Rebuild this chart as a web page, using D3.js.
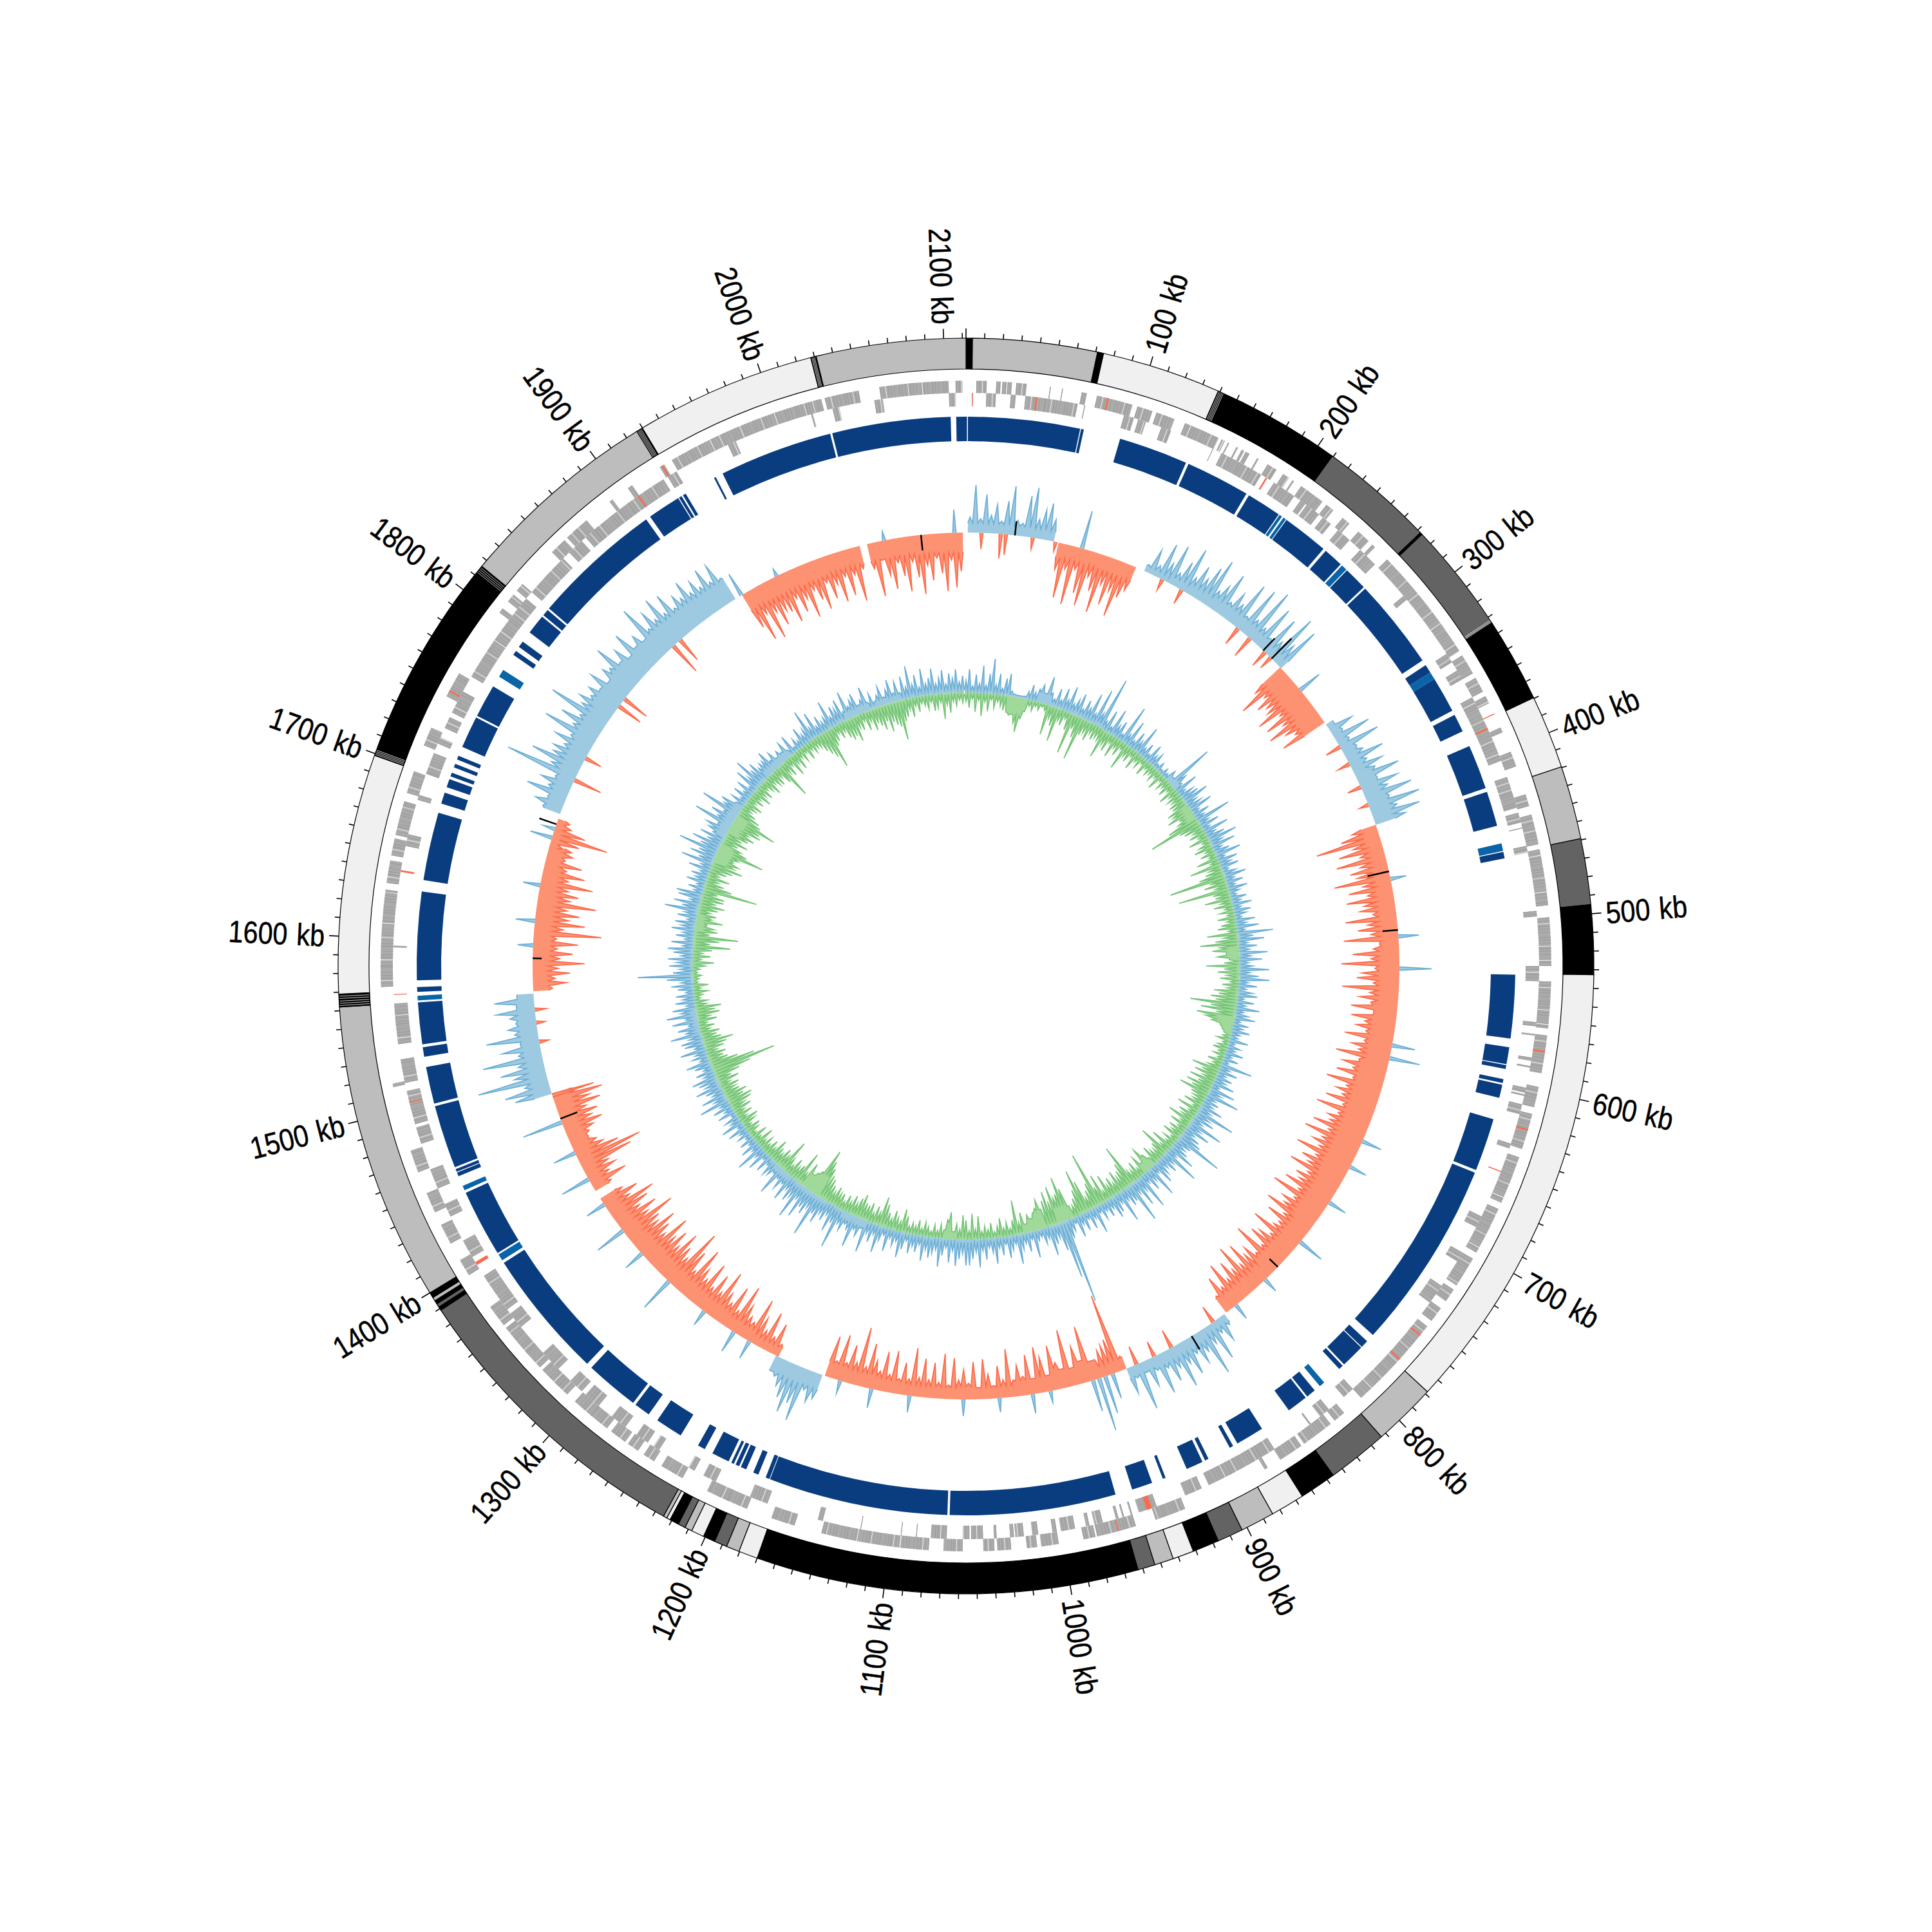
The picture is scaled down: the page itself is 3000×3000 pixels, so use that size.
<!DOCTYPE html>
<html><head><meta charset="utf-8"><script src="https://cdn.jsdelivr.net/npm/d3@7"></script>
<style>html,body{margin:0;padding:0;background:#fff}svg{display:block}text{font-family:"Liberation Sans Narrow","Liberation Sans",sans-serif}</style></head>
<body><svg id="c" width="3000" height="3000"></svg>
<script>
const genomeKb = 2112;
const shades = {k:"#000000",d:"#636363",b:"#bdbdbd",f:"#f0f0f0"};
const contigs = [[0,3.5,"k"],[3.5,71,"b"],[71,74.3,"k"],[74.3,139,"f"],[139,209.4,"k"],[209.4,272,"d"],[272,273.2,"k"],[273.2,333.8,"d"],[333.8,379.6,"k"],[379.6,419.5,"f"],[419.5,459.3,"b"],[459.3,495.1,"d"],[495.1,532.7,"k"],[532.7,778.5,"f"],[778.5,813,"b"],[813,846,"d"],[846,866,"k"],[866,884.5,"f"],[884.5,903,"b"],[903,917,"d"],[917,931.5,"k"],[931.5,943,"f"],[943,953.3,"b"],[953.3,962.7,"d"],[962.7,1170,"k"],[1170,1180.4,"f"],[1180.4,1187.5,"b"],[1187.5,1194.5,"d"],[1194.5,1201,"k"],[1201,1208,"f"],[1208,1212,"b"],[1212,1216,"d"],[1216,1221,"k"],[1221,1223,"f"],[1223,1225,"b"],[1225,1389,"d"],[1389,1391,"k"],[1391,1393,"d"],[1393,1395,"k"],[1395,1397,"b"],[1397,1400,"k"],[1400,1562,"b"],[1562,1569,"k"],[1569,1699,"f"],[1699,1816,"k"],[1816,1926.5,"b"],[1926.5,1930,"k"],[1930,2028,"f"],[2028,2031,"k"],[2031,2112,"b"]];
const contigHairlines = [139.6,140.4,141.2,142,332,332.8,1562.8,1564,1565.2,1566.6,1567.8,1699.6,1700.4,1701.2,1702,1812,1813,1814,1815,1926.9,1927.6,1928.3,1929,2028.6,2029.3,2030];
const majorTicks = d3.range(100,2112,100);
const minorTicks = d3.range(0,2112,10);

const genesOuter = [[2106,2110],[6,12],[17.5,20],[21,23.5],[24,26.5],[29,35],[48.5,49],[55.5,56],[67,70],[76,97],[100,109],[111.5,122.5],[129,150],[152,153],[153.5,154],[156,156.8],[161.5,162.5],[165,166.5],[167.5,170],[175,176],[182,188],[192.5,196.5],[199,200],[205,220],[223,228],[235,240],[247,255],[258,260],[270,293],[293,329],[329,337],[340,352],[355,364],[367,371.5],[387,390],[402,411],[428,435],[440,446],[446,457.5],[460.5,493],[500,528],[537,564],[568,590],[598,610],[614,635],[640,668],[672,700],[704,722],[725,733],[738,747],[751,774],[774,807],[820,827],[830,849],[851,865.5],[874,876],[927,945],[957,968],[968,980],[981,988],[1002.5,1012.6],[1015,1021],[1030,1038],[1039.6,1046],[1058,1069],[1077.5,1094],[1094.5,1140],[1156,1170],[1185,1198],[1197,1210],[1226,1240],[1245,1252],[1256,1263],[1265,1275],[1278,1290],[1290,1302],[1308,1318],[1315,1328],[1330,1342],[1340,1360],[1362,1375],[1397,1407],[1418,1430],[1438,1450],[1463,1476],[1514,1516],[1572,1584],[1584,1628],[1632,1645],[1648,1658],[1660,1680],[1685,1698],[1714,1725],[1745,1760],[1802,1805],[1810,1815],[1818,1823],[1848,1858],[1860,1868],[1865,1875],[1892,1894],[1905,1908],[1927,1930],[1935,1962],[1962,1975],[1975,2028],[2030,2050],[2062,2102]];
const genesInner = [[2102,2106],[3.5,4],[12,17.6],[26.4,29.3],[35,47],[47,66],[70,70.5],[94,100],[102.7,107.4],[117,123],[149.6,150],[155.5,176],[176,182],[190.7,205],[209.5,213],[214,223],[226,232],[237.6,246.4],[255,267],[292,295],[334.4,340.3],[346,352],[364,375.5],[375.5,405],[415,419.5],[419.5,434],[437,443],[446,446.5],[457,461],[495.7,499],[528,537],[561,563.5],[568,569],[582,584],[587,588],[600,603],[604,605],[610,616],[634,637],[680,687],[704,710],[727,739],[807,814],[825.5,832],[839,840],[865,874],[874,894.5],[894.5,909],[913.5,924],[942,953],[957,958],[962,963],[965.4,967],[975,980],[983,985],[991.6,1000],[1002.5,1005],[1013.5,1017],[1022,1027],[1027.8,1030],[1038,1039.6],[1046,1053],[1054,1058],[1067.4,1076.7],[1085,1085.4],[1094,1094.4],[1118,1118.4],[1141,1144],[1175,1186],[1208,1216],[1222,1226],[1246,1250],[1254,1262],[1270,1280],[1290,1300],[1303,1312],[1322,1335],[1355,1365],[1368,1383],[1383,1392],[1405,1416],[1432,1440],[1450,1462],[1478,1488],[1490,1510],[1515,1529],[1538,1562],[1595,1596],[1655,1662],[1683,1686],[1699,1701],[1700,1712],[1718,1722],[1728,1735],[1738,1752],[1762,1790],[1790,1808],[1808,1818],[1823,1850],[1855,1865],[1868,1878],[1875,1900],[1900,1925],[1928,1934],[1968,1973],[2020,2021],[2033,2037],[2058,2063]];
const redOuter = [[82,83],[378,378.6],[577,578],[623,624],[757,758],[775,776],[967,967.6],[1748,1749],[1928,1929]];
const redInner = [[3.5,4],[41,42],[185,186],[384,385],[651,651.6],[945,948],[1399.5,1401.5],[1503,1503.6],[1567,1567.5],[1639.5,1640.5],[1907,1908]];

const rnaDark = [[0,0.6],[1.2,70.4],[71,72.7],[95.6,138.5],[140.2,180.1],[181.9,203.6],[209.4,238.2],[240,252.3],[257.6,272.2],[273.4,329.7],[333.2,338.5],[343.2,365.5],[368.4,379.6],[389.5,417.1],[419.5,441.2],[457.6,461.7],[533.3,572.6],[577.9,588.4],[589,591.4],[597.8,600.2],[601.3,609.5],[623,655.9],[657.7,775.6],[780.8,785.5],[786.1,800.8],[802,804.9],[824.8,830.7],[831.9,844.8],[864.7,882.3],[885.3,887.6],[902.3,904.6],[906.4,917],[931,932.8],[939.8,952.7],[963.3,1066],[1067.4,1178.6],[1179,1181.5],[1186.3,1189.7],[1194.4,1198],[1199.1,1201.5],[1202.7,1204.4],[1206.2,1217.3],[1222.6,1227.3],[1239.6,1256.6],[1263,1273],[1274.8,1308.3],[1311.8,1392.1],[1399.2,1440.9],[1452,1454.4],[1454.9,1456.7],[1457.9,1497.2],[1498.9,1521.8],[1528.2,1534.1],[1535.9,1561.7],[1568.1,1571.1],[1575.2,1629.8],[1636.8,1679],[1684.9,1691.9],[1695.5,1700.7],[1702.5,1704.9],[1708.4,1710.7],[1713.6,1716],[1721.9,1741.8],[1743,1763.5],[1786.4,1789.3],[1792.3,1796.4],[1803.4,1815.7],[1816.9,1821],[1822.2,1903.1],[1906,1926.6],[1927.2,1929],[1930,1932],[1951.8,1953],[1957.7,2028],[2029.3,2102.6],[2106,2112]];
const rnaLight = [[204.2,206],[207.1,208.9],[253.4,257],[338.5,343.2],[452.3,457],[817.2,820.7],[1393.9,1398.1],[1442.6,1445.5],[1562.9,1565.8],[1770.5,1775.3]];

const skewStep = 4;
const skewStarts = [3,74,144,274,331,418,843,930,1171,1208,1402,1485,1566,1679,1706,1931,2036];
const skewRuns = [
[24,74,22,60,28,45,20,52,76,24,20,64,78,30,46,58,34],
[-42,-85,-38,-92,-35,-70,-88,-40,-60,-92,-45,-75,-50,-88,-55,-40],
[12,40,18,58,30,64,22,45,72,28,52,36,60,78,30,44,70,26,48,34,76,24,80,30,90,28,72,22,66,30,84,38,74],
[-55,-88,-50,-70,-58,-62,-85,-50,-80,-55,-85,-60,-48,-75],
[12,40,18,60,20,66,24,30,60,28,50,34,70,30,60,40,76,36,82,42,76,50],
[-40,-60,-102,-45,-70,-38,-78,-42,-60,-50,-88,-44,-68,-40,-74,-48,-55,-36,-80,-46,-62,
 -42,-85,-30,-40,-72,-44,-90,-38,-58,-66,-40,-88,-45,-60,-42,-72,-36,-70,-48,-60,-44,-76,
 -44,-62,-50,-84,-46,-70,-52,-76,-48,-88,-54,-68,-56,-80,-50,-90,-52,-66,-60,-84,-56,-92,
 -60,-72,-58,-92,-56,-76,-62,-88,-54,-70,-60,-80,-52,-92,-50,-66,-58,-84,-48,-72,-46,
 -50,-82,-44,-60,-70,-42,-86,-40,-58,-50,-75,-44,-82,-46,-65,-40,-72,-36,-58,-30],
[18,40,22,62,30,78,34,48,28,58,36,70,34,52,26,64,22,44,18,75,20,42],
[-22,-125,-55,-48,-42,-30,-30,-88,-35,-60,-28,-90,-30,-42,-70,-25,-55,-72,-24,-62,-30,-48,-26,-75,-28,-50,-20,-38,-62,-18,-58,-25,-46,-30,-64,-22,-70,-25,-55,-28,-60,-30,-75,-26,-50,-24,-66,-28,-62,-30,-45,-70,-32,-92,-35,-60,-30,-72,-28,-65],
[40,48,32,85,60,78,58,42,30,25],
[-20,-50,-25,-62,-28,-45,-72,-30,-35,-50,-78,-32,-68,-36,-48,-80,-40,-65,-38,-75,-42,-55,-85,-40,-70,-100,-46,-60,-80,-50,-72,-55,-85,-48,-62,-78,-52,-60,-90,-50,-70,-45,-65,-80,-42,-60,-38],
[-30,-60,-35,-50,-42,-85,-104,-70,-48,-40,-30,-35,-45,-62,-48,-60,-45,-70,-55,-78,-40],
[58,72,38,110,50,70,40,94,36,60,30,82,36,45,32,40,60,28,62,26],
[-30,-52,-35,-58,-40,-81,-42,-62,-38,-70,-36,-105,-45,-78,-52,-68,-48,-92,-50,-62,-45,-82,-42,-66,-36,-58,-30,-40,-36],
[-20,-45,-88,-50,-25,-20],
[30,45,28,66,34,50,30,115,45,82,50,54,40,60,38,88,44,70,42,99,50,60,45,55,40,64,36,55,48,80,42,60,36,74,40,55,38,92,46,70,50,81,48,75,44,60,50,73,48,62,46,71,44,68,40],
[-60,-85,-45,-90,-50,-75,-55,-60,-80,-45,-70,-52,-85,-44,-62,-80,-40,-68,-48,-78,-40,-72,-42,-85,-36],
[-40,-85,-30,-55,-78,-38,-60,-85,-40,-65,-92,-48,-72,-38,-62,-90,-42,-85,-60]
];
const skewBands = [[15],[-22],[9,12,16,20,20,18,15],[-38],[15,20,28,32],[-24,-28,-32,-38,-44,-44,-40,-34,-26],[12,18,19,16],[-18,-50,-34,-24,-18,-20,-18,-18,-20,-22,-24],[24,24],[-14,-20,-24,-26,-28,-30,-28,-26],[-22,-28,-28],[28,28],[-24,-28,-28,-30,-28,-24],[-12],[26,30,34,38,40,40,38,36],[-28,-30,-28],[-28,-30]];
const skewOppPos = [[91,60],[296,38],[460,25],[505,32],[530,50],[590,36],[600,48],[668,32],[690,28],[722,30],[760,42],[800,24],[830,26],[940,40],[946,60],[951,84],[956,50],[990,18],[1004,30],[1030,22],[1058,26],[1100,26],[1130,30],[1155,20],[1232,30],[1246,35],[1274,26],[1310,55],[1340,33],[1363,49],[1388,32],[1411,47],[1434,36],[1460,64],[1647,27],[1619,30],[1600,24],[1685,35],[1692,19],[1929,38],[1960,12],[2048,14],[2103,36]];
const skewOppNeg = [[12,-25],[27,-38],[31,-32],[52,-18],[70,-15],[158,-18],[175,-24],[228,-30],[240,-35],[256,-28],[262,-22],[350,-25],[365,-20],[385,-22],[400,-15],[852,-28],[890,-30],[905,-25],[920,-30],[1482,-67],[1525,-15],[1540,-14],[1550,-18],[1733,-45],[1752,-27],[1800,-41],[1807,-43],[1863,-52],[1870,-40]];
const skewBlack = [[38,22],[254,26],[263,44],[454,-34],[500,-24],[786,-18],[872,24],[1463,-28],[1590,-14],[1696,28],[2077,-24]];

const cgStep = 4;
const cgPos = [
18,36,10,28,14,42,12,30,54,14,32,10,26,34,8,4,3,3,4,12,24,14,
20,28,16,44,20,12,30,14,34,18,41,16,24,36,14,30,20,46,16,58,22,83,
14,34,10,42,18,28,10,61,16,42,12,30,18,47,14,24,10,30,16,22,8,14,
6,12,8,18,10,76,26,14,37,12,22,28,41,18,22,37,12,26,14,55,16,30,
12,40,16,28,46,20,38,14,24,40,12,30,18,28,10,20,34,14,26,12,30,16,
10,24,14,30,12,26,18,10,30,16,34,12,55,24,40,14,28,16,44,18,35,14,
20,46,16,30,47,14,28,12,22,30,10,26,14,36,12,20,32,10,24,16,28,14,
12,30,10,20,14,28,12,24,10,50,16,30,14,26,18,34,12,40,20,52,16,24,
18,36,20,62,24,34,18,55,22,40,18,30,36,76,26,20,28,44,16,59,20,30,
18,24,36,14,51,20,32,16,56,22,44,20,65,26,30,18,50,16,28,34,16,26,
14,24,12,42,16,30,12,28,16,34,10,20,30,132,90,44,22,30,46,18,24,12,
16,42,12,30,16,24,46,14,22,34,12,28,16,40,22,14,32,18,44,20,30,40,
40,22,30,41,18,36,14,26,44,18,24,32,20,38,14,26,18,30,12,26,40,16,
24,14,36,12,22,43,16,30,18,50,14,28,20,50,24,18,30,22,64,26,42,18,
30,22,40,28,68,24,38,30,50,22,58,26,36,20,42,18,30,16,48,14,22,26,
12,28,10,34,16,46,14,30,12,24,10,20,14,30,10,35,16,22,8,28,14,30,
16,47,20,38,18,26,40,22,30,39,18,28,14,26,38,14,24,18,40,16,30,34,
20,48,22,34,16,40,18,47,24,36,14,30,18,28,12,24,34,18,40,85,30,20,
36,24,38,18,30,39,16,34,14,28,18,36,22,32,14,30,20,52,26,40,16,36,
40,14,24,12,30,18,26,14,34,16,50,24,40,28,63,30,46,24,38,20,30,36,
20,62,26,40,22,63,28,36,14,24,12,28,14,30,12,40,22,50,26,34,20,24,
24,36,16,26,12,20,14,27,10,31,8,18,12,30,16,22,50,18,40,14,28,16,
20,44,16,30,24,36,14,44,18,26,34,14,20,38,12,24,10,18,30,12,22,36,
14,30,12,36,18,50,20,34,14,42,18,26,40,16,24,36,14,30,22,36,16,26];
const cgNeg = [
-14,-24,-10,-30,-12,-36,-14,-28,-10,-22,-12,-18,-24,-26,-30,-28,-41,-54,-32,-20,-10,-16,
-8,-12,-6,-10,-47,-20,-30,-53,-18,-24,-12,-28,-64,-22,-34,-68,-26,-20,-30,-16,-24,-18,
-20,-46,-22,-30,-14,-34,-16,-26,-12,-43,-18,-24,-12,-30,-14,-20,-10,-26,-12,-18,-14,-20,
-12,-28,-10,-20,-14,-24,-12,-30,-16,-22,-18,-26,-24,-36,-30,-42,-24,-30,-50,-84,-36,-30,
-18,-26,-14,-32,-12,-20,-30,-14,-24,-12,-34,-14,-49,-20,-28,-40,-89,-26,-36,-20,-80,-26,
-24,-42,-18,-30,-14,-22,-12,-28,-14,-24,-30,-14,-48,-22,-36,-60,-30,-42,-20,-34,-16,-24,
-52,-24,-34,-20,-30,-14,-26,-18,-38,-30,-42,-34,-73,-40,-55,-30,-60,-45,-35,-20,-16,-12,
-12,-20,-10,-16,-22,-12,-18,-10,-24,-14,-20,-44,-26,-36,-20,-40,-24,-41,-30,-48,-26,-20,
-18,-30,-12,-36,-14,-28,-20,-40,-16,-30,-14,-26,-18,-30,-12,-22,-14,-36,-16,-50,-26,-18,
-20,-30,-14,-24,-38,-16,-30,-14,-28,-18,-20,-67,-40,-30,-22,-35,-18,-30,-20,-40,-16,-46,
-28,-87,-40,-30,-20,-50,-70,-40,-28,-18,-20,-50,-70,-45,-40,-60,-38,-55,-42,-30,-46,-34,
-28,-20,-27,-14,-33,-18,-54,-24,-12,-22,-14,-30,-18,-10,-24,-14,-20,-12,-36,-16,-40,-14,
-30,-38,-16,-24,-12,-42,-30,-14,-22,-12,-20,-10,-16,-22,-12,-24,-14,-18,-12,-26,-36,-16,
-20,-30,-16,-24,-36,-46,-20,-28,-16,-30,-24,-26,-38,-30,-20,-30,-18,-26,-14,-24,-22,-30,
-20,-28,-36,-40,-50,-60,-76,-36,-30,-24,-40,-20,-52,-26,-20,-30,-16,-24,-52,-22,-30,-18,
-24,-34,-16,-25,-14,-22,-14,-30,-12,-26,-10,-18,-24,-12,-22,-30,-14,-26,-16,-30,-22,-36,
-40,-28,-36,-26,-22,-30,-18,-34,-24,-40,-60,-102,-70,-45,-30,-24,-30,-18,-30,-36,-48,-30,
-24,-30,-16,-24,-14,-30,-20,-36,-30,-40,-18,-20,-10,-14,-22,-12,-24,-8,-10,-14,-8,-12,
-20,-34,-14,-28,-16,-30,-58,-26,-40,-69,-24,-36,-30,-18,-42,-24,-30,-20,-30,-40,-26,-36,
-36,-24,-86,-44,-30,-20,-36,-18,-28,-36,-50,-35,-40,-30,-36,-75,-46,-34,-26,-40,-28,-36,
-44,-32,-50,-46,-70,-42,-36,-26,-16,-20,-28,-14,-24,-16,-30,-18,-26,-14,-20,-30,-16,-22,
-26,-16,-30,-59,-20,-28,-14,-34,-18,-30,-14,-22,-12,-26,-14,-20,-16,-18,-28,-36,-44,-63,
-30,-24,-14,-24,-16,-28,-34,-30,-40,-20,-26,-14,-30,-18,-34,-24,-30,-38,-26,-44,-30,-36,
-40,-62,-34,-28,-18,-30,-14,-24,-12,-16,-22,-12,-26,-22,-14,-40,-18,-31,-14,-20,-12,-16];
const cgPosBand = [3,6,3,2,3,3,2,3,4,4,4,4,4,4,6,3,4,3,4,3,5,3,5,5];
const cgNegBand = [3,2,3,3,3,3,4,2,3,3,4,3,3,4,5,3,4,3,4,4,3,3,3,3];
const cgPosSolid = [[90,102,16],[275,290,11],[1180,1210,12],[1290,1310,10],[1750,1790,16],[1840,1880,12],[1960,1990,12],[2000,2030,10],[1500,1530,9]];
const cgNegSolid = [[52,74,28],[318,335,16],[505,520,20],[592,612,28],[800,815,22],[920,940,24],[955,985,30],[1068,1082,26],[1248,1272,34],[1630,1648,14],[1715,1740,24],[1758,1780,20]];

const cx=1500, cy=1500;
const angle = d3.scaleLinear().domain([0,genomeKb]).range([0,2*Math.PI]);
const rSkew = d3.scaleLinear().domain([-100,100]).range([573,773]);
const rCg = d3.scaleLinear().domain([-100,100]).range([325,525]);
const svg = d3.select("#c");
const g = svg.append("g").attr("transform",`translate(${cx},${cy})`);

const arcBand=(r0,r1)=>d3.arc().innerRadius(r0).outerRadius(r1).startAngle(d=>angle(d[0])).endAngle(d=>angle(d[1]));
function blocks(data,r0,r1,fill){
  g.append("g").selectAll("path").data(data).join("path").attr("d",arcBand(r0,r1)).attr("fill",fill);
}
const pt=(kb,r)=>[r*Math.sin(angle(kb)),-r*Math.cos(angle(kb))];
// contig ring
g.append("g").selectAll("path").data(contigs).join("path").attr("d",arcBand(927,975))
 .attr("fill",d=>shades[d[2]]).attr("stroke","#000").attr("stroke-width",1.2);
g.append("g").selectAll("line").data(contigHairlines).join("line")
 .attr("x1",d=>pt(d,928)[0]).attr("y1",d=>pt(d,928)[1]).attr("x2",d=>pt(d,974)[0]).attr("y2",d=>pt(d,974)[1])
 .attr("stroke","#fff").attr("stroke-width",0.8);
// ticks
g.append("g").selectAll("line").data(minorTicks).join("line")
 .attr("x1",d=>pt(d,975)[0]).attr("y1",d=>pt(d,975)[1])
 .attr("x2",d=>pt(d,d%100===0?990:983)[0]).attr("y2",d=>pt(d,d%100===0?990:983)[1])
 .attr("stroke","#000").attr("stroke-width",1.6);
g.append("g").selectAll("text").data(majorTicks).join("text")
 .attr("transform",d=>{const[x,y]=pt(d,997);const deg=angle(d)*180/Math.PI;return `translate(${x},${y}) rotate(${deg<180?deg-90:deg+90}) scale(0.86,1)`;})
 .attr("text-anchor",d=>angle(d)<Math.PI?"start":"end").attr("dominant-baseline","central")
 .attr("font-size",48).attr("fill","#000").attr("stroke","#000").attr("stroke-width",0.5).attr("word-spacing",3).text(d=>`${d} kb`);
// genes: block plus fine radial stripes along the arc
function genes(data,r0,r1){
  blocks(data,r0,r1,"#ababab");
  const rm=(r0+r1)/2;
  const arcP=d=>{const p=d3.path();p.arc(0,0,rm,angle(d[0])-Math.PI/2,angle(d[1])-Math.PI/2);return p.toString();};
  g.append("g").selectAll("path").data(data).join("path").attr("d",arcP).attr("fill","none")
   .attr("stroke","#989898").attr("stroke-width",r1-r0).attr("stroke-dasharray","0.9 4.3 0.7 7.1 1 3.2");
  g.append("g").selectAll("path").data(data).join("path").attr("d",arcP).attr("fill","none")
   .attr("stroke","#ffffff").attr("stroke-width",r1-r0).attr("stroke-dasharray","0.8 34 0.7 21 1 47 0.7 13").attr("stroke-dashoffset",-9);
}
genes(genesOuter,890,909);
genes(genesInner,869,890);
blocks(redOuter,890,909,"#fb6a4a");
blocks(redInner,869,890,"#fb6a4a");
// rRNA-like track
blocks(rnaDark,815,853,"#0a3d7f");
blocks(rnaLight,815,853,"#0a64a8");

function spike(rScale,pts,fill,line){
  const area=d3.areaRadial().angle(d=>angle(d[0])).innerRadius(rScale(0)).outerRadius(d=>rScale(d[1]));
  const ln=d3.lineRadial().angle(d=>angle(d[0])).radius(d=>rScale(d[1]));
  const s=g.append("g");
  s.append("path").attr("d",area(pts)).attr("fill",fill);
  s.append("path").attr("d",ln(pts)).attr("fill","none").attr("stroke",line).attr("stroke-width",1.7).attr("stroke-linejoin","miter").attr("stroke-miterlimit",8);
}
// tips sit on the values; between two tips the outline falls to the level of the solid band
function outline(vals,start,step,bandAt){
  const out=[];
  vals.forEach((v,j)=>{
    const kb=start+j*step, nxt=vals[j+1];
    if(j===0) out.push([kb-step*0.4,Math.sign(v)*Math.min(Math.abs(v),bandAt(kb))]);
    out.push([kb,v]);
    if(nxt!==undefined){
      out.push([kb+step/2,Math.sign(v)*Math.min(Math.abs(v),Math.abs(nxt),bandAt(kb+step/2))]);
    } else out.push([kb+step*0.4,Math.sign(v)*Math.min(Math.abs(v),bandAt(kb))]);
  });
  return out;
}
const cBlue=["#9ecae1","#6baed6"],cRed=["#fc9272","#fb6a4a"],cGreen=["#a1d99b","#74c476"];
skewRuns.forEach((run,i)=>{
  const st=skewStarts[i],b=skewBands[i],len=run.length*skewStep;
  const bandAt=kb=>Math.abs(b[Math.min(b.length-1,Math.floor((kb-st)/len*b.length))]);
  const c=run[0]>0?cBlue:cRed;
  spike(rSkew,outline(run,st,skewStep,bandAt),c[0],c[1]);
});
const tri=(d)=>[[d[0]-1.3,0],[d[0],d[1]],[d[0]+1.3,0]];
skewOppPos.forEach(d=>spike(rSkew,tri(d),cBlue[0],cBlue[1]));
skewOppNeg.forEach(d=>spike(rSkew,tri(d),cRed[0],cRed[1]));
g.append("g").selectAll("line").data(skewBlack).join("line")
 .attr("x1",d=>pt(d[0],rSkew(0))[0]).attr("y1",d=>pt(d[0],rSkew(0))[1])
 .attr("x2",d=>pt(d[0],rSkew(d[1]))[0]).attr("y2",d=>pt(d[0],rSkew(d[1]))[1])
 .attr("stroke","#000").attr("stroke-width",2.5);
// inner ring
const cgBandAt=(chunks,solid)=>kb=>{
  const s=solid.find(r=>kb>=r[0]&&kb<=r[1]);
  return s?s[2]:chunks[Math.min(chunks.length-1,Math.floor(kb/88))];
};
spike(rCg,outline(cgNeg,0,cgStep,cgBandAt(cgNegBand,cgNegSolid)),cGreen[0],cGreen[1]);
spike(rCg,outline(cgPos,0,cgStep,cgBandAt(cgPosBand,cgPosSolid)),cBlue[0],cBlue[1]);
</script></body></html>
